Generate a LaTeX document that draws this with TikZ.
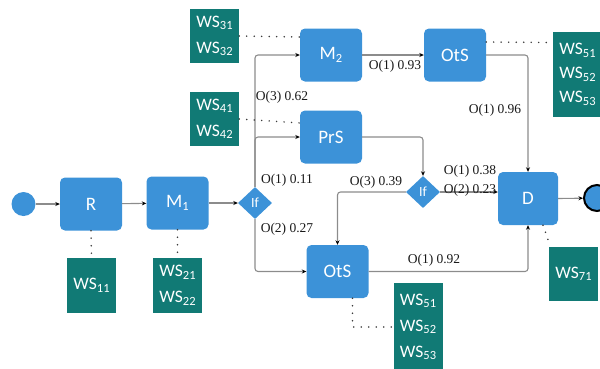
\documentclass[tikz,border=0pt]{standalone}
\usepackage{fontspec}
\setmainfont{Liberation Serif}
\newfontfamily\boxfont{Carlito}
\usetikzlibrary{shapes.geometric,arrows.meta,calc}
\definecolor{boxblue}{RGB}{60,146,216}
\definecolor{wsteal}{RGB}{17,122,117}
\definecolor{linegray}{RGB}{140,140,140}
\definecolor{dotgray}{RGB}{60,60,60}
\newcommand{\mysub}[1]{\raisebox{-0.3ex}{\fontsize{12.5}{12.5}\selectfont #1}}
\newcommand{\ws}[1]{WS\mysub{#1}}
\begin{document}
\begin{tikzpicture}[x=1pt,y=-1pt,
  task/.style={draw=none,fill=boxblue,rounded corners=5pt,minimum width=62pt,minimum height=53pt,
    text=white,font=\boxfont\fontsize{19}{19}\selectfont,inner sep=0pt},
  gate/.style={diamond,fill=boxblue,minimum width=34pt,minimum height=32pt,inner sep=0pt,
    text=white,font=\boxfont\fontsize{14}{14}\selectfont},
  wsbox/.style={fill=wsteal,minimum width=49pt,text=white,align=center,inner sep=0pt,
    font=\boxfont\fontsize{17.5}{26}\selectfont},
  flow/.style={draw=linegray,line width=1.1pt,rounded corners=3pt,-{Stealth[length=4.5pt,width=4pt,black]}},
  link/.style={draw=dotgray,line width=1.7pt,line cap=round,dash pattern=on 0pt off 7.5pt},
  lab/.style={font=\fontsize{13.5}{14}\selectfont,inner sep=0pt,text=black!90}]
\useasboundingbox (0,0) rectangle (600,368);
% events
\node[circle,fill=boxblue,minimum size=24pt,inner sep=0pt] (start) at (23.5,204) {};
\node[circle,fill=boxblue,draw=black,line width=2pt,minimum size=26pt,inner sep=0pt] (end) at (597,198) {};
% tasks
\node[task] (R) at (91,204) {R};
\node[task] (M1) at (177.5,203) {M\mysub{1}};
\node[gate] (if1) at (255,203) {If};
\node[task] (M2) at (331,55) {M\mysub{2}};
\node[task] (OtSt) at (455,55) {OtS};
\node[task] (PrS) at (331,137) {PrS};
\node[gate] (if2) at (423,192) {If};
\node[task] (OtSb) at (337.5,271.5) {OtS};
\node[task,minimum width=60pt] (D) at (528,198.5) {D};
% web service boxes
\node[wsbox,minimum height=54pt] (ws3) at (214.5,36) {\ws{31}\\\ws{32}};
\node[wsbox,minimum height=54pt] (ws4) at (214.5,119) {\ws{41}\\\ws{42}};
\node[wsbox,minimum height=55pt] (ws1) at (91.5,285.5) {\ws{11}};
\node[wsbox,minimum height=55pt] (ws2) at (177.5,285.5) {\ws{21}\\\ws{22}};
\node[wsbox,minimum height=85pt,font=\boxfont\fontsize{17.5}{24}\selectfont] (ws5t) at (577.5,74.5) {\ws{51}\\\ws{52}\\\ws{53}};
\node[wsbox,minimum height=88pt] (ws5b) at (418,327) {\ws{51}\\\ws{52}\\\ws{53}};
\node[wsbox,minimum height=54pt] (ws7) at (573.5,274) {\ws{71}};
% flows
\draw[flow] (start) -- (R);
\draw[flow] (R) -- (M1);
\draw[flow] (M1) -- (if1);
\draw[flow] (if1.north) |- (M2.west);
\draw[flow] (if1.north) |- (PrS.west);
\draw[flow] (if1.south) |- (OtSb.west);
\draw[flow] (M2) -- (OtSt);
\draw[flow] (OtSt.east) -| (D.north);
\draw[flow] (PrS.east) -| (if2.north);
\draw[flow] (if2.west) -| (OtSb.north);
\draw[flow] (if2.east) -- (if2.east -| D.west);
\draw[flow] (OtSb.east) -| (D.south);
\draw[flow] (D.east) -- (end);
% dotted links
\draw[link] (ws3.east) -- ($(M2.west)+(0,-18)$);
\draw[link] (ws4.east) -- ($(PrS.west)+(0,-14)$);
\draw[link] (R.south) -- (ws1.north);
\draw[link] (M1.south) -- (ws2.north);
\draw[link] ($(OtSt.east)+(0,-13)$) -- ($(ws5t.west)+(0,-32)$);
\draw[link] ($(OtSb.south)+(15,0)$) |- (ws5b.west);
\draw[link] ($(D.south)+(15,0)$) -- ($(ws7.north west)+(1,-2)$);
% labels
\node[lab] (l1) at (395,66) {O(1) 0.93};
\node[lab] (l2) at (495,110) {O(1) 0.96};
\node[lab] (l3) at (282,97) {O(3) 0.62};
\node[lab] (l4) at (287,180) {O(1) 0.11};
\node[lab] (l5) at (287,229) {O(2) 0.27};
\node[lab] (l6) at (376,182) {O(3) 0.39};
\node[lab] (l7) at (470,171) {O(1) 0.38};
\node[lab] (l8) at (470,190) {O(2) 0.23};
\node[lab] (l9) at (434,260) {O(1) 0.92};
\end{tikzpicture}
\end{document}
